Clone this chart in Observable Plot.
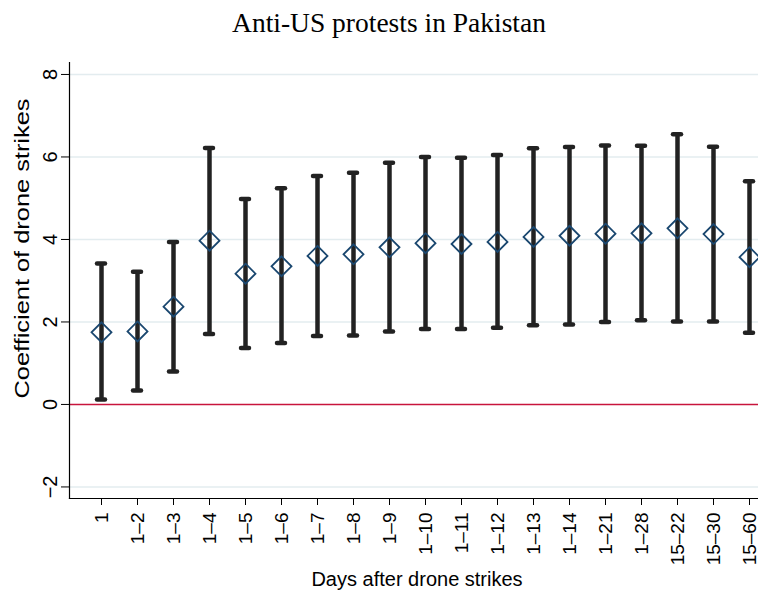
<!DOCTYPE html>
<html>
<head>
<meta charset="utf-8">
<script src="https://cdn.jsdelivr.net/npm/d3@7"></script>
<script src="https://cdn.jsdelivr.net/npm/@observablehq/plot@0.6"></script>
<style>
  html, body { margin: 0; padding: 0; background: #fff; }
  #title { height: 45px; line-height: 45px; font-family: "Liberation Serif", "Times New Roman", serif; font-size: 27.5px; color: #000; text-align: center; padding-left: 20px; box-sizing: border-box; width: 758px; white-space: nowrap; }
</style>
</head>
<body>
<div id="title">Anti-US protests in Pakistan</div>
<div id="chart"></div>
<script>
const categories = ["1","1–2","1–3","1–4","1–5","1–6","1–7","1–8","1–9","1–10","1–11","1–12","1–13","1–14","1–21","1–28","15–22","15–30","15–60"];
const coefficients = [1.75,1.77,2.37,3.97,3.17,3.35,3.60,3.64,3.81,3.91,3.89,3.94,4.06,4.09,4.14,4.15,4.27,4.13,3.57];
const lowerCI = [0.12,0.34,0.80,1.71,1.37,1.49,1.66,1.67,1.77,1.83,1.83,1.86,1.92,1.94,2.00,2.04,2.01,2.01,1.74];
const upperCI = [3.42,3.22,3.94,6.22,4.98,5.24,5.54,5.62,5.86,6.00,5.98,6.05,6.21,6.24,6.28,6.27,6.55,6.25,5.41];
const yTicks = [-2, 0, 2, 4, 6, 8];
const gridTicks = [-2, 2, 4, 6, 8];
const yTitle = "Coefficient of drone strikes";
const xTitle = "Days after drone strikes";

const data = categories.map((c, i) => ({cat: c, coef: coefficients[i], lo: lowerCI[i], hi: upperCI[i]}));

const font = "'Liberation Sans', Arial, Helvetica, sans-serif";

const chart = Plot.plot({
  width: 758,
  height: 548,
  marginLeft: 69,
  marginRight: 0,
  marginTop: 17,
  marginBottom: 95,
  style: {fontFamily: font, fontSize: "20px", color: "#000", background: "#fff"},
  x: {type: "point", domain: categories, range: [100, 750], padding: 0},
  y: {domain: [-2.28, 8.29]},
  marks: [
    Plot.gridY(gridTicks, {stroke: "#e3ecef", strokeOpacity: 1, strokeWidth: 1.5}),
    Plot.ruleY([0], {stroke: "#c8143c", strokeWidth: 1.6}),
    Plot.frame({anchor: "left", stroke: "#000", strokeWidth: 1.2}),
    Plot.frame({anchor: "bottom", stroke: "#000", strokeWidth: 1.2}),
    Plot.axisY(yTicks, {tickRotate: -90, tickSize: 8, tickPadding: 5, fontSize: 20, label: null, tickFormat: d => d < 0 ? "−" + Math.abs(d) : String(d)}),
    Plot.axisX({tickRotate: -90, tickSize: 7, tickPadding: 7, fontSize: 19, label: null}),
    Plot.text([yTitle], {text: d => d, frameAnchor: "top-left", rotate: -90, textAnchor: "middle", lineAnchor: "middle", dx: -47, dy: 186, fontSize: 20, fill: "#000"}),
    Plot.text([xTitle], {text: d => d, frameAnchor: "bottom", textAnchor: "middle", lineAnchor: "middle", dy: 81, dx: 3, fontSize: 20, fill: "#000"}),
    Plot.ruleX(data, {x: "cat", y1: "lo", y2: "hi", stroke: "#222", strokeWidth: 4.5}),
    Plot.ruleY(data, {x1: "cat", x2: "cat", y: "lo", stroke: "#222", strokeWidth: 4.5, strokeLinecap: "round", insetLeft: -4, insetRight: -4}),
    Plot.ruleY(data, {x1: "cat", x2: "cat", y: "hi", stroke: "#222", strokeWidth: 4.5, strokeLinecap: "round", insetLeft: -4, insetRight: -4}),
    Plot.dot(data, {x: "cat", y: "coef", symbol: "diamond2", r: 9, stroke: "#1a476f", strokeWidth: 1.8, fill: "none"})
  ]
});
// the reference's vertical title is drawn stretched along its length
d3.select(chart).selectAll("text").filter(function() { return this.textContent === yTitle; })
  .attr("textLength", 300).attr("lengthAdjust", "spacingAndGlyphs");
document.getElementById("chart").appendChild(chart);
</script>
</body>
</html>
